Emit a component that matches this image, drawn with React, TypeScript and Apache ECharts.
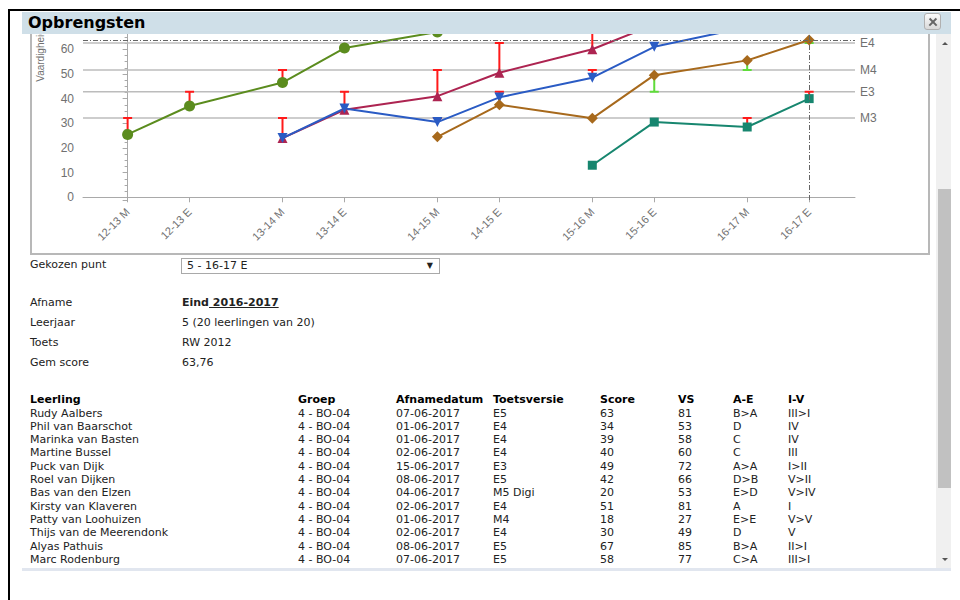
import React, { useEffect, useRef } from 'react';
import * as echarts from 'echarts';

// ---- chart data ----
const xPositions = [0, 2, 5, 7, 10, 12, 15, 17, 20, 22];
const xLabels = ['12-13 M', '12-13 E', '13-14 M', '13-14 E', '14-15 M', '14-15 E', '15-16 M', '15-16 E', '16-17 M', '16-17 E'];

const greenValues = [25.5, 37, 46.5, 60.5, 67, null, null, null, null, null];
const redValues = [null, null, 24, 35.5, 41, 50.5, 60, 70, null, null];
const blueValues = [null, null, 24, 36, 30.5, 40.5, 48.5, 61, 69, null];
const brownValues = [null, null, null, null, 24.5, 37.5, 32, 49.5, 55.5, 63.76];
const tealValues = [null, null, null, null, null, null, 13, 30.5, 28.5, 40];

const normNames = ['E4', 'M4', 'E3', 'M3'];
const normValues = [62.5, 51.6, 42.8, 32.1];

// [xIndex, value, norm]
const errorBars = [
  [0, 25.5, 32.1],
  [1, 37, 42.8],
  [2, 46.5, 51.6],
  [2, 24, 32.1],
  [3, 35.5, 42.8],
  [4, 41, 51.6],
  [4, 30.5, 32.1],
  [5, 50.5, 62.5],
  [5, 40.5, 42.8],
  [6, 60, 72],
  [6, 48.5, 51.6],
  [7, 49.5, 42.8],
  [8, 55.5, 51.6],
  [8, 28.5, 32.1],
  [9, 40, 42.8],
  [9, 63.76, 62.5],
];

const selectedIndex = 9;
const selectedValue = 63.76;

// ---- table data ----
const tableHeaders = ['Leerling', 'Groep', 'Afnamedatum', 'Toetsversie', 'Score', 'VS', 'A-E', 'I-V'];
const students = ['Rudy Aalbers', 'Phil van Baarschot', 'Marinka van Basten', 'Martine Bussel', 'Puck van Dijk', 'Roel van Dijken', 'Bas van den Elzen', 'Kirsty van Klaveren', 'Patty van Loohuizen', 'Thijs van de Meerendonk', 'Alyas Pathuis', 'Marc Rodenburg'];
const groups = Array.from({ length: 12 }, () => '4 - BO-04');
const dates = ['07-06-2017', '01-06-2017', '01-06-2017', '02-06-2017', '15-06-2017', '08-06-2017', '04-06-2017', '02-06-2017', '01-06-2017', '02-06-2017', '08-06-2017', '07-06-2017'];
const versions = ['E5', 'E4', 'E4', 'E4', 'E3', 'E5', 'M5 Digi', 'E4', 'M4', 'E4', 'E5', 'E5'];
const scores = ['63', '34', '39', '40', '49', '42', '20', '51', '18', '30', '67', '58'];
const vsValues = ['81', '53', '58', '60', '72', '66', '53', '81', '27', '49', '85', '77'];
const aeValues = ['B>A', 'D', 'C', 'C', 'A>A', 'D>B', 'E>D', 'A', 'E>E', 'D', 'B>A', 'C>A'];
const ivValues = ['III>I', 'IV', 'IV', 'III', 'I>II', 'V>II', 'V>IV', 'I', 'V>V', 'V', 'II>I', 'III>I'];

const X_MIN = -1.44;
const X_MAX = 23.48;
const Y_MIN = -1.09;
const Y_MAX = 128;

const toData = (vals: (number | null)[]) =>
  vals.map((v, i) => (v === null ? null : [xPositions[i], v])).filter((d) => d !== null);

const axisGray = '#a9a9a9';
const labelGray = '#707070';

function buildOption(): any {
  const lineSeries = (data: (number | null)[], color: string, symbol: string, size: number, rotate = 0) => ({
    type: 'line',
    data: toData(data),
    symbol,
    symbolSize: size,
    symbolRotate: rotate,
    lineStyle: { color, width: 2 },
    itemStyle: { color },
    z: 3,
    clip: true,
  });
  const normSeries = normNames.map((n, i) => ({
    type: 'line',
    name: n,
    data: [
      [X_MIN, normValues[i]],
      [X_MAX, normValues[i]],
    ],
    symbol: 'none',
    silent: true,
    z: 1,
    lineStyle: { color: '#bcbcbc', width: 1.5 },
    endLabel: { show: true, formatter: n, color: labelGray, fontSize: 12, distance: 5 },
  }));
  return {
    animation: false,
    textStyle: { fontFamily: 'Arial, "Liberation Sans", sans-serif' },
    grid: { left: 51, right: 73, top: 19.5, bottom: 53, containLabel: false, outerBoundsMode: 'none' },
    xAxis: {
      type: 'value',
      min: X_MIN,
      max: X_MAX,
      axisLine: { show: true, lineStyle: { color: axisGray, width: 1 } },
      axisTick: { show: true, customValues: xPositions, length: 5, lineStyle: { color: axisGray } },
      axisLabel: {
        customValues: xPositions,
        rotate: 45,
        margin: 10,
        color: labelGray,
        fontSize: 11,
        formatter: (v: number) => {
          const i = xPositions.indexOf(v);
          return i >= 0 ? xLabels[i] : '';
        },
      },
      splitLine: { show: false },
    },
    yAxis: {
      type: 'value',
      min: Y_MIN,
      max: Y_MAX,
      splitNumber: 13,
      name: 'Vaardigheidsscore',
      nameLocation: 'middle',
      nameRotate: 90,
      nameGap: 38,
      nameTextStyle: { color: labelGray, fontSize: 10 },
      axisLine: { show: true, lineStyle: { color: axisGray, width: 1 } },
      axisTick: { show: true, length: 5, lineStyle: { color: axisGray } },
      minorTick: { show: true, splitNumber: 4, length: 3, lineStyle: { color: axisGray } },
      axisLabel: {
        color: labelGray,
        fontSize: 12,
        margin: 9,
        showMinLabel: false,
        showMaxLabel: false,
        // labels above the visible part of the (scrolled) chart are never seen
        formatter: (v: number) => (Math.abs(v % 10) < 1e-6 && v <= 60 ? String(Math.round(v)) : ''),
      },
      splitLine: { show: false },
    },
    series: [
      ...normSeries,
      {
        type: 'custom',
        z: 2,
        clip: true,
        silent: true,
        encode: { x: 0, y: 1 },
        data: errorBars.map((b) => [xPositions[b[0]], b[1], b[2]]),
        renderItem: (_params: any, api: any) => {
          const x = api.value(0);
          const v = api.value(1);
          const n = api.value(2);
          const p1 = api.coord([x, v]);
          const p2 = api.coord([x, n]);
          const color = n > v ? '#ff1a1a' : '#5fdc3a';
          const hw = 4.5;
          return {
            type: 'group',
            children: [
              { type: 'line', shape: { x1: p1[0], y1: p1[1], x2: p2[0], y2: p2[1] }, style: { stroke: color, lineWidth: 2, opacity: 1 } },
              { type: 'line', shape: { x1: p2[0] - hw, y1: p2[1], x2: p2[0] + hw, y2: p2[1] }, style: { stroke: color, lineWidth: 2, opacity: 1 } },
            ],
          };
        },
      },
      lineSeries(greenValues, '#5b8c1e', 'circle', 11),
      lineSeries(redValues, '#ad2451', 'triangle', 10),
      lineSeries(blueValues, '#2a5bc4', 'triangle', 10, 180),
      {
        ...lineSeries(brownValues, '#a7691c', 'diamond', 11),
        markLine: {
          silent: true,
          symbol: 'none',
          label: { show: false },
          lineStyle: { color: '#666', width: 1, type: [5, 2, 1, 2] },
          data: [{ xAxis: xPositions[selectedIndex] }, { yAxis: selectedValue }],
        },
      },
      lineSeries(tealValues, '#17866f', 'rect', 9),
    ],
  };
}

const font = 'Verdana, "DejaVu Sans", sans-serif';

function T(props: { x: number; cy: number; children: any; bold?: boolean; style?: any }) {
  return (
    <div
      style={{
        position: 'absolute',
        left: props.x,
        top: props.cy - 7,
        height: 14,
        lineHeight: '14px',
        whiteSpace: 'nowrap',
        fontWeight: props.bold ? 'bold' : 'normal',
        ...(props.style || {}),
      }}
    >
      {props.children}
    </div>
  );
}

export default function App() {
  const ref = useRef<HTMLDivElement>(null);
  useEffect(() => {
    const chart = echarts.init(ref.current as HTMLDivElement, null, { renderer: 'svg' });
    chart.setOption(buildOption());
    return () => chart.dispose();
  }, []);

  // content area origin in page coordinates
  const ox = 22;
  const oy = 34;
  const colX = [30, 298, 396, 493, 600, 678, 733, 788].map((x) => x - ox);
  const columns = [students, groups, dates, versions, scores, vsValues, aeValues, ivValues];

  return (
    <div
      style={{
        position: 'fixed',
        left: 0,
        top: 0,
        width: 960,
        height: 600,
        background: '#fff',
        overflow: 'hidden',
        fontFamily: font,
        fontSize: 11,
        color: '#222',
      }}
    >
      {/* outer black frame */}
      <div style={{ position: 'absolute', left: 8, top: 9, width: 952, height: 2, background: '#000' }} />
      <div style={{ position: 'absolute', left: 8, top: 9, width: 2, height: 591, background: '#000' }} />

      {/* title bar */}
      <div style={{ position: 'absolute', left: 22, top: 12, width: 929, height: 22, background: '#cfdfe8' }}>
        <div style={{ position: 'absolute', left: 6, top: 0, lineHeight: '21px', fontWeight: 'bold', fontSize: 16, color: '#000' }}>
          Opbrengsten
        </div>
        <div
          style={{
            position: 'absolute',
            left: 902,
            top: 1,
            width: 17,
            height: 17,
            boxSizing: 'border-box',
            border: '1px solid #b0b0b0',
            borderRadius: 3,
            background: 'linear-gradient(#fbfbfb, #d9d9d9)',
          }}
        >
          <div style={{ position: 'absolute', left: 2.5, top: 6.5, width: 10, height: 2.4, background: '#666', transform: 'rotate(45deg)' }} />
          <div style={{ position: 'absolute', left: 2.5, top: 6.5, width: 10, height: 2.4, background: '#666', transform: 'rotate(-45deg)' }} />
        </div>
      </div>

      {/* content area */}
      <div style={{ position: 'absolute', left: ox, top: oy, width: 914, height: 534, overflow: 'hidden', background: '#fff' }}>
        {/* chart box */}
        <div
          style={{
            position: 'absolute',
            left: 30 - ox,
            top: -140 - oy,
            width: 900,
            height: 395,
            boxSizing: 'border-box',
            border: '2px solid #b8b8b8',
            background: '#fff',
          }}
        >
          <div ref={ref} style={{ width: 896, height: 391 }} />
        </div>

        {/* chosen point */}
        <T x={30 - ox} cy={265 - oy}>Gekozen punt</T>
        <div
          style={{
            position: 'absolute',
            left: 181 - ox,
            top: 258 - oy,
            width: 259,
            height: 16,
            boxSizing: 'border-box',
            border: '1px solid #a9a9a9',
            background: '#fff',
          }}
        >
          <div style={{ position: 'absolute', left: 5, top: 0, lineHeight: '14px' }}>5 - 16-17 E</div>
          <div style={{ position: 'absolute', right: 6, top: 0, lineHeight: '14px', fontSize: 8 }}>▼</div>
        </div>

        <T x={30 - ox} cy={303 - oy}>Afname</T>
        <T x={182 - ox} cy={303 - oy} bold>
          Eind<span style={{ textDecoration: 'underline' }}> 2016-2017</span>
        </T>
        <T x={30 - ox} cy={323 - oy}>Leerjaar</T>
        <T x={182 - ox} cy={323 - oy}>5 (20 leerlingen van 20)</T>
        <T x={30 - ox} cy={343 - oy}>Toets</T>
        <T x={182 - ox} cy={343 - oy}>RW 2012</T>
        <T x={30 - ox} cy={363 - oy}>Gem score</T>
        <T x={182 - ox} cy={363 - oy}>63,76</T>

        {/* table */}
        {tableHeaders.map((h, c) => (
          <T key={'h' + c} x={colX[c]} cy={400 - oy} bold style={{ color: '#000' }}>
            {h}
          </T>
        ))}
        {students.map((_, r) =>
          columns.map((col, c) => (
            <T key={r + '-' + c} x={colX[c]} cy={413.5 + r * 13.32 - oy}>
              {col[r]}
            </T>
          ))
        )}
      </div>

      {/* scrollbar */}
      <div style={{ position: 'absolute', left: 936, top: 34, width: 15, height: 534, background: '#f0f0f0' }}>
        <div style={{ position: 'absolute', left: 2, top: 155, width: 13, height: 299, background: '#c1c1c1' }} />
        <div style={{ position: 'absolute', left: 6, top: 8, width: 0, height: 0, borderLeft: '3px solid transparent', borderRight: '3px solid transparent', borderBottom: '3px solid #555' }} />
        <div style={{ position: 'absolute', left: 6, top: 524, width: 0, height: 0, borderLeft: '3px solid transparent', borderRight: '3px solid transparent', borderTop: '3px solid #555' }} />
      </div>

      {/* bottom edge of content */}
      <div style={{ position: 'absolute', left: 22, top: 568, width: 929, height: 3, background: '#e1e6ef' }} />
    </div>
  );
}
